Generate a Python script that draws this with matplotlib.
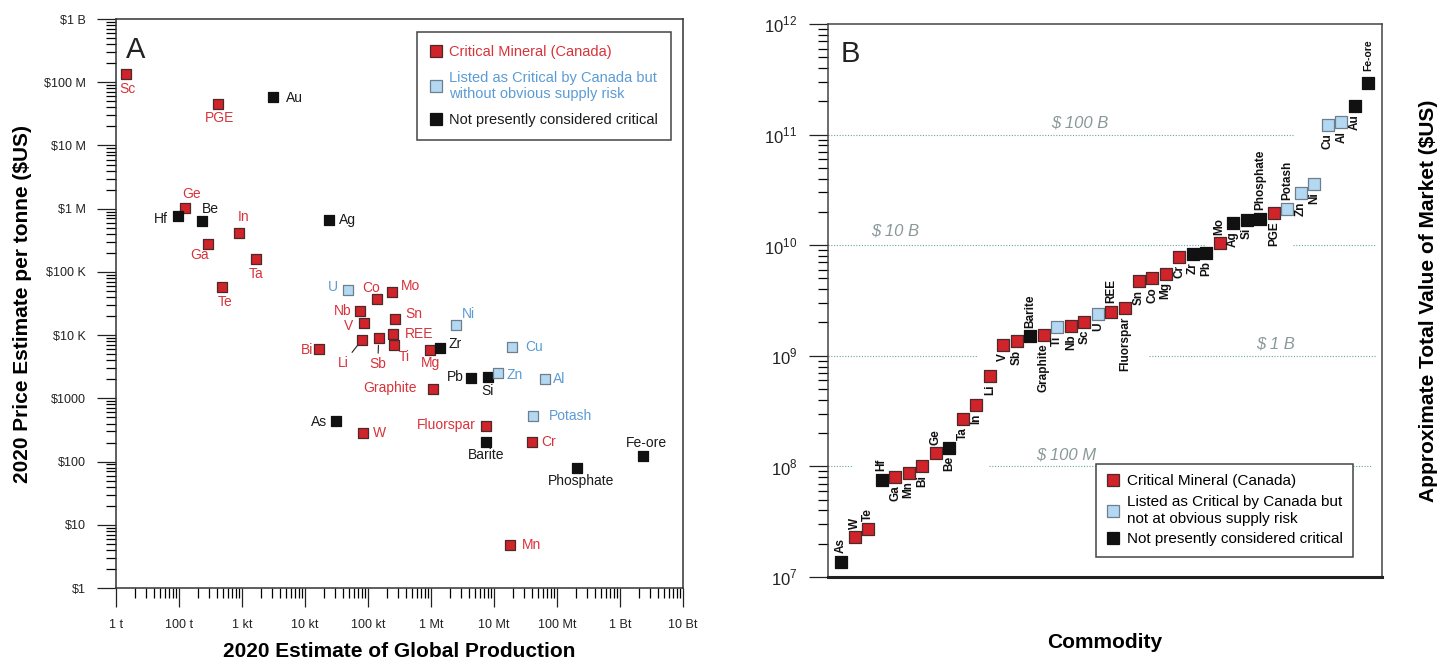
import numpy as np
import matplotlib
matplotlib.use("Agg")
import matplotlib.pyplot as plt
from matplotlib.lines import Line2D
from matplotlib.ticker import FixedLocator, FixedFormatter, LogLocator, NullFormatter, NullLocator

plt.rcParams['font.family'] = ['Liberation Sans', 'DejaVu Sans']
plt.rcParams['mathtext.fontset'] = 'custom'
plt.rcParams['mathtext.rm'] = 'Liberation Sans'

# ---- panel A data: global production (t) vs price ($/t) ----
a_names = ['Sc', 'PGE', 'Au', 'Ge', 'Hf', 'Be', 'In', 'Ga', 'Ta', 'Ag', 'Te',
           'U', 'Co', 'Mo', 'Nb', 'Sn', 'V', 'Ni', 'REE', 'Li', 'Sb', 'Ti',
           'Bi', 'Mg', 'Zr', 'Cu', 'Pb', 'Si', 'Zn', 'Al', 'Graphite', 'As',
           'W', 'Potash', 'Fluorspar', 'Barite', 'Cr', 'Fe-ore', 'Phosphate', 'Mn']
a_prod = [14.5, 417, 3090, 126, 95, 234, 890, 288, 1660, 24000, 479,
          47900, 138000, 240000, 74000, 270000, 87000, 2.5e6, 250000, 79000, 148000, 257000,
          16600, 955000, 1.38e6, 1.95e7, 4.3e6, 7.9e6, 1.15e7, 6.5e7, 1.07e6, 31000,
          83000, 4.2e7, 7.4e6, 7.4e6, 4.0e7, 2.3e9, 2.1e8, 1.8e7]
a_price = [1.35e8, 4.6e7, 5.9e7, 1.02e6, 7.6e5, 6.3e5, 4.1e5, 2.75e5, 1.6e5, 6.6e5, 5.75e4,
           5.1e4, 3.7e4, 4.8e4, 2.4e4, 1.8e4, 1.55e4, 1.45e4, 1.05e4, 8300, 8900, 6900,
           6000, 5750, 6200, 6500, 2100, 2200, 2500, 2000, 1400, 440,
           280, 525, 360, 205, 205, 123, 79, 4.8]
a_cat = ['r', 'r', 'k', 'r', 'k', 'k', 'r', 'r', 'r', 'k', 'r',
         'b', 'r', 'r', 'r', 'r', 'r', 'b', 'r', 'r', 'r', 'r',
         'r', 'r', 'k', 'b', 'k', 'k', 'b', 'b', 'r', 'k',
         'r', 'b', 'r', 'k', 'r', 'k', 'k', 'r']

x_ticks_a = [1e1, 1e2, 1e3, 1e4, 1e5, 1e6, 1e7, 1e8, 1e9, 1e10]
x_labels_a = ['1 t', '100 t', '1 kt', '10 kt', '100 kt', '1 Mt', '10 Mt', '100 Mt', '1 Bt', '10 Bt']
y_ticks_a = [1, 10, 100, 1e3, 1e4, 1e5, 1e6, 1e7, 1e8, 1e9]
y_labels_a = ['$1', '$10', '$100', '$1000', '$10 K', '$100 K', '$1 M', '$10 M', '$100 M', '$1 B']

# ---- panel B data: total market value ($US), sorted ----
b_names = ['As', 'W', 'Te', 'Hf', 'Ga', 'Mn', 'Bi', 'Ge', 'Be', 'Ta', 'In', 'Li', 'V', 'Sb',
           'Barite', 'Graphite', 'Ti', 'Nb', 'Sc', 'U', 'REE', 'Fluorspar', 'Sn', 'Co', 'Mg',
           'Cr', 'Zr', 'Pb', 'Mo', 'Ag', 'Si', 'Phosphate', 'PGE', 'Potash', 'Zn', 'Ni',
           'Cu', 'Al', 'Au', 'Fe-ore']
b_value = [1.38e7, 2.29e7, 2.69e7, 7.6e7, 8.1e7, 8.7e7, 1.0e8, 1.32e8, 1.48e8, 2.7e8, 3.6e8,
           6.6e8, 1.26e9, 1.35e9, 1.51e9, 1.55e9, 1.82e9, 1.86e9, 2.04e9, 2.4e9, 2.5e9, 2.7e9,
           4.7e9, 5.0e9, 5.5e9, 7.9e9, 8.3e9, 8.5e9, 1.05e10, 1.58e10, 1.7e10, 1.74e10,
           1.95e10, 2.14e10, 2.95e10, 3.55e10, 1.23e11, 1.29e11, 1.82e11, 2.9e11]
b_cat = ['k', 'r', 'r', 'k', 'r', 'r', 'r', 'r', 'k', 'r', 'r', 'r', 'r', 'r',
         'k', 'r', 'b', 'r', 'r', 'b', 'r', 'r', 'r', 'r', 'r',
         'r', 'k', 'k', 'r', 'k', 'k', 'k', 'r', 'b', 'b', 'b',
         'b', 'b', 'k', 'k']
y_ticks_b = [1e7, 1e8, 1e9, 1e10, 1e11, 1e12]
y_labels_b = [r'$10^{7}$', r'$10^{8}$', r'$10^{9}$', r'$10^{10}$', r'$10^{11}$', r'$10^{12}$']

face = {'r': '#d0232a', 'b': '#b5d8f2', 'k': '#111111'}
edge = {'r': '#4a2a2a', 'b': '#6d7f8e', 'k': '#111111'}
tcol = {'r': '#d8333a', 'b': '#5b9bd5', 'k': '#1a1a1a'}

# label offsets in panel A (pixels, up = +), alignment
lab_a = {
    'Sc': (1, -15, 'center'), 'PGE': (2, -14, 'center'), 'Au': (13, -1, 'left'),
    'Ge': (6, 14, 'center'), 'Hf': (-10, -3, 'right'), 'Be': (8, 12, 'center'),
    'In': (5, 16, 'center'), 'Ga': (-8, -11, 'center'), 'Ta': (0, -15, 'center'),
    'Ag': (10, 0, 'left'), 'Te': (3, -15, 'center'), 'U': (-10, 3, 'right'),
    'Co': (-6, 11, 'center'), 'Mo': (9, 6, 'left'), 'Nb': (-8, 0, 'right'),
    'Sn': (10, 5, 'left'), 'V': (-11, -3, 'right'), 'Ni': (6, 11, 'left'),
    'REE': (12, 0, 'left'), 'Li': (-18, -23, 'center'), 'Sb': (-1, -26, 'center'),
    'Ti': (11, -12, 'center'), 'Bi': (-6, -1, 'right'), 'Mg': (1, -13, 'center'),
    'Zr': (9, 4, 'left'), 'Cu': (13, 0, 'left'), 'Pb': (-7, 1, 'right'),
    'Si': (0, -14, 'center'), 'Zn': (9, -2, 'left'), 'Al': (8, 0, 'left'),
    'Graphite': (-16, 1, 'right'), 'As': (-9, -1, 'right'), 'W': (10, 0, 'left'),
    'Potash': (16, 0, 'left'), 'Fluorspar': (-10, 1, 'right'), 'Barite': (0, -13, 'center'),
    'Cr': (9, 0, 'left'), 'Fe-ore': (4, 13, 'center'), 'Phosphate': (4, -13, 'center'),
    'Mn': (12, 0, 'left'),
}
leader = ['Li', 'Sb']
above_b = ['As', 'W', 'Te', 'Hf', 'Ge', 'Barite', 'REE', 'Mo', 'Phosphate', 'Potash', 'Fe-ore']

px = 0.72
fig = plt.figure(figsize=(14.37, 6.61), dpi=100)
axA = fig.add_axes([0.0807, 0.1104, 0.3946, 0.8608])
axB = fig.add_axes([0.5762, 0.1271, 0.3855, 0.8366])

leg_labels_a = ['Critical Mineral (Canada)',
                'Listed as Critical by Canada but\nwithout obvious supply risk',
                'Not presently considered critical']
leg_labels_b = ['Critical Mineral (Canada)',
                'Listed as Critical by Canada but\nnot at obvious supply risk',
                'Not presently considered critical']

# ---------------- panel A ----------------
for n, x, y, c in zip(a_names, a_prod, a_price, a_cat):
    axA.scatter(x, y, marker='s', s=60, c=face[c], edgecolors=edge[c], linewidths=0.9, zorder=3)
    dx, dy, ha = lab_a[n]
    if n in leader:
        axA.annotate(n, (x, y), xytext=(dx * px, dy * px), textcoords='offset points',
                     ha=ha, va='center', fontsize=10, color=tcol[c],
                     arrowprops=dict(arrowstyle='-', color='#222222', lw=0.8, shrinkA=1, shrinkB=5))
    else:
        axA.annotate(n, (x, y), xytext=(dx * px, dy * px), textcoords='offset points',
                     ha=ha, va='center', fontsize=10, color=tcol[c])

axA.set_xscale('log')
axA.set_yscale('log')
axA.set_xlim(1e1, 1e10)
axA.set_ylim(1, 1e9)
axA.xaxis.set_major_locator(FixedLocator(x_ticks_a))
axA.xaxis.set_major_formatter(FixedFormatter(x_labels_a))
axA.yaxis.set_major_locator(FixedLocator(y_ticks_a))
axA.yaxis.set_major_formatter(FixedFormatter(y_labels_a))
for axis in (axA.xaxis, axA.yaxis):
    axis.set_minor_locator(LogLocator(base=10, subs=np.arange(2, 10), numticks=20))
    axis.set_minor_formatter(NullFormatter())
axA.tick_params(which='major', direction='out', length=14, width=0.9, labelsize=9, colors='#222222')
axA.tick_params(which='minor', direction='out', length=7, width=0.9)
axA.tick_params(axis='y', which='major', pad=8)
axA.tick_params(axis='x', which='major', pad=8)
for s in axA.spines.values():
    s.set_linewidth(1.1)
    s.set_color('#333333')

axA.set_xlabel('2020 Estimate of Global Production', fontsize=15, fontweight='bold',
               family=['Liberation Sans Narrow', 'Liberation Sans'], labelpad=8)
axA.set_ylabel('2020 Price Estimate per tonne ($US)', fontsize=15, fontweight='bold',
               family=['Liberation Sans Narrow', 'Liberation Sans'], labelpad=8)
axA.text(0.035, 0.945, 'A', transform=axA.transAxes, fontsize=21, color='#222222',
         ha='center', va='center')

hA = [Line2D([], [], marker='s', ls='none', markersize=8, mfc=face[c], mec=edge[c], mew=0.9)
      for c in ['r', 'b', 'k']]
legA = axA.legend(hA, leg_labels_a, loc='upper right', bbox_to_anchor=(0.979, 0.977),
                  borderaxespad=0, fancybox=False, edgecolor='#444444', framealpha=1,
                  fontsize=10.5, handlelength=0.8, handletextpad=0.5, borderpad=0.9,
                  labelspacing=0.8)
legA.get_frame().set_linewidth(1.1)
for t, c in zip(legA.get_texts(), ['r', 'b', 'k']):
    t.set_color(tcol[c])

# ---------------- panel B ----------------
xb = np.arange(1, len(b_names) + 1)
for i, n, v, c in zip(xb, b_names, b_value, b_cat):
    axB.scatter(i, v, marker='s', s=64, c=face[c], edgecolors=edge[c], linewidths=0.9, zorder=3)
    if n in above_b:
        off = 9 if n == 'Fe-ore' else 6
        axB.annotate(n, (i, v), xytext=(0, off), textcoords='offset points', rotation=90,
                     ha='center', va='bottom', fontsize=8.5 if n != 'Fe-ore' else 7.5,
                     fontweight='bold', color='#111111')
    else:
        axB.annotate(n, (i, v), xytext=(0, -6), textcoords='offset points', rotation=90,
                     ha='center', va='top', fontsize=8.5, fontweight='bold', color='#111111')

axB.set_yscale('log')
axB.set_ylim(1e7, 1e12)
axB.set_xlim(0.04, 41.0)
axB.xaxis.set_major_locator(NullLocator())
axB.yaxis.set_major_locator(FixedLocator(y_ticks_b))
axB.yaxis.set_major_formatter(FixedFormatter(y_labels_b))
axB.yaxis.set_minor_locator(LogLocator(base=10, subs=np.arange(2, 10), numticks=20))
axB.yaxis.set_minor_formatter(NullFormatter())
axB.tick_params(which='major', direction='out', length=14, width=0.9, labelsize=12,
                colors='#222222', pad=8)
axB.tick_params(which='minor', direction='out', length=7, width=0.9)
for s in axB.spines.values():
    s.set_linewidth(1.1)
    s.set_color('#444444')
axB.spines['bottom'].set_linewidth(2.2)
axB.spines['bottom'].set_color('#222222')

gcol = '#6aa5a5'
dot = (0, (1, 1.5))
axB.axhline(1e11, xmin=0, xmax=0.84, color=gcol, ls=dot, lw=0.8, zorder=1)
axB.axhline(1e10, xmin=0, xmax=0.68, color=gcol, ls=dot, lw=0.8, zorder=1)
axB.axhline(1e10, xmin=0.84, xmax=0.99, color=gcol, ls=dot, lw=0.8, zorder=1)
axB.axhline(1e9, xmin=0, xmax=0.27, color=gcol, ls=dot, lw=0.8, zorder=1)
axB.axhline(1e9, xmin=0.58, xmax=0.99, color=gcol, ls=dot, lw=0.8, zorder=1)
axB.axhline(1e8, xmin=0, xmax=0.045, color=gcol, ls=dot, lw=0.8, zorder=1)
axB.axhline(1e8, xmin=0.29, xmax=0.98, color=gcol, ls=dot, lw=0.8, zorder=1)
for tx, ty, s in [(0.455, 0.821, '$ 100 B'), (0.121, 0.625, '$ 10 B'),
                  (0.807, 0.421, '$ 1 B'), (0.430, 0.220, '$ 100 M')]:
    axB.text(tx, ty, s, transform=axB.transAxes, fontsize=12, style='italic',
             color='#8a9898', ha='center', va='center')

axB.text(0.04, 0.945, 'B', transform=axB.transAxes, fontsize=21, color='#222222',
         ha='center', va='center')
axB.set_xlabel('Commodity', fontsize=15, fontweight='bold', labelpad=40)
axB.yaxis.set_label_position('right')
axB.set_ylabel('Approximate Total Value of Market ($US)', fontsize=15, fontweight='bold',
               labelpad=27)

hB = [Line2D([], [], marker='s', ls='none', markersize=8, mfc=face[c], mec=edge[c], mew=0.9)
      for c in ['r', 'b', 'k']]
legB = axB.legend(hB, leg_labels_b, loc='lower right', bbox_to_anchor=(0.948, 0.036),
                  borderaxespad=0, fancybox=False, edgecolor='#444444', framealpha=1,
                  fontsize=11, handlelength=0.8, handletextpad=0.5, borderpad=0.7,
                  labelspacing=0.45)
legB.get_frame().set_linewidth(1.1)
legB.set_zorder(5)

fig.savefig('out.png', dpi=100)
